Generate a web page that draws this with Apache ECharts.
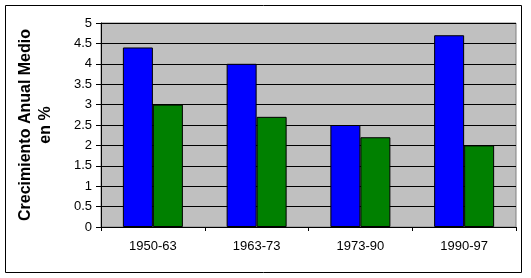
<!DOCTYPE html>
<html><head><meta charset="utf-8">
<script src="https://cdn.jsdelivr.net/npm/echarts@6/dist/echarts.min.js"></script>
<style>html,body{margin:0;padding:0;background:#fff}#c{width:531px;height:278px}</style>
</head><body><div id="c"></div>
<script>
const categories = ['1950-63', '1963-73', '1973-90', '1990-97'];
const seriesA = [4.4, 4.0, 2.5, 4.7];
const seriesB = [3.0, 2.7, 2.2, 2.0];
const yTitle = 'Crecimiento Anual Medio\nen %';

const chart = echarts.init(document.getElementById('c'), null, {renderer: 'canvas'});
const font = 'Liberation Sans, Arial, sans-serif';
chart.setOption({
  animation: false,
  backgroundColor: '#fff',
  graphic: [{
    type: 'rect', z: 100, silent: true,
    shape: {x: 5.5, y: 5.5, width: 516, height: 267},
    style: {fill: 'none', stroke: '#000', lineWidth: 1}
  }],
  grid: {left: 101, top: 23, right: 15, bottom: 51, show: true, backgroundColor: '#C0C0C0', borderColor: '#808080', borderWidth: 1},
  xAxis: {
    type: 'category', data: categories,
    axisLine: {lineStyle: {color: '#000', width: 1}},
    axisTick: {show: true, length: 4, lineStyle: {color: '#000'}, alignWithLabel: false},
    axisLabel: {color: '#000', fontFamily: font, fontSize: 13, margin: 13},
    splitLine: {show: false}
  },
  yAxis: {
    type: 'value', min: 0, max: 5, interval: 0.5,
    name: yTitle, nameLocation: 'middle', nameGap: 45, nameRotate: 90,
    nameTextStyle: {color: '#000', fontFamily: font, fontSize: 16, fontWeight: 'bold', lineHeight: 20},
    axisLine: {show: true, lineStyle: {color: '#000', width: 1}},
    axisTick: {show: true, length: 5, lineStyle: {color: '#000'}},
    axisLabel: {color: '#000', fontFamily: font, fontSize: 13, margin: 9},
    splitLine: {show: true, lineStyle: {color: '#000', width: 1}}
  },
  series: [
    {type: 'bar', data: seriesA, barWidth: 30, barGap: '0%',
     itemStyle: {color: '#0000FF', borderColor: '#000', borderWidth: 1}},
    {type: 'bar', data: seriesB, barWidth: 30, barGap: '0%',
     itemStyle: {color: '#008000', borderColor: '#000', borderWidth: 1}}
  ]
});
</script></body></html>
